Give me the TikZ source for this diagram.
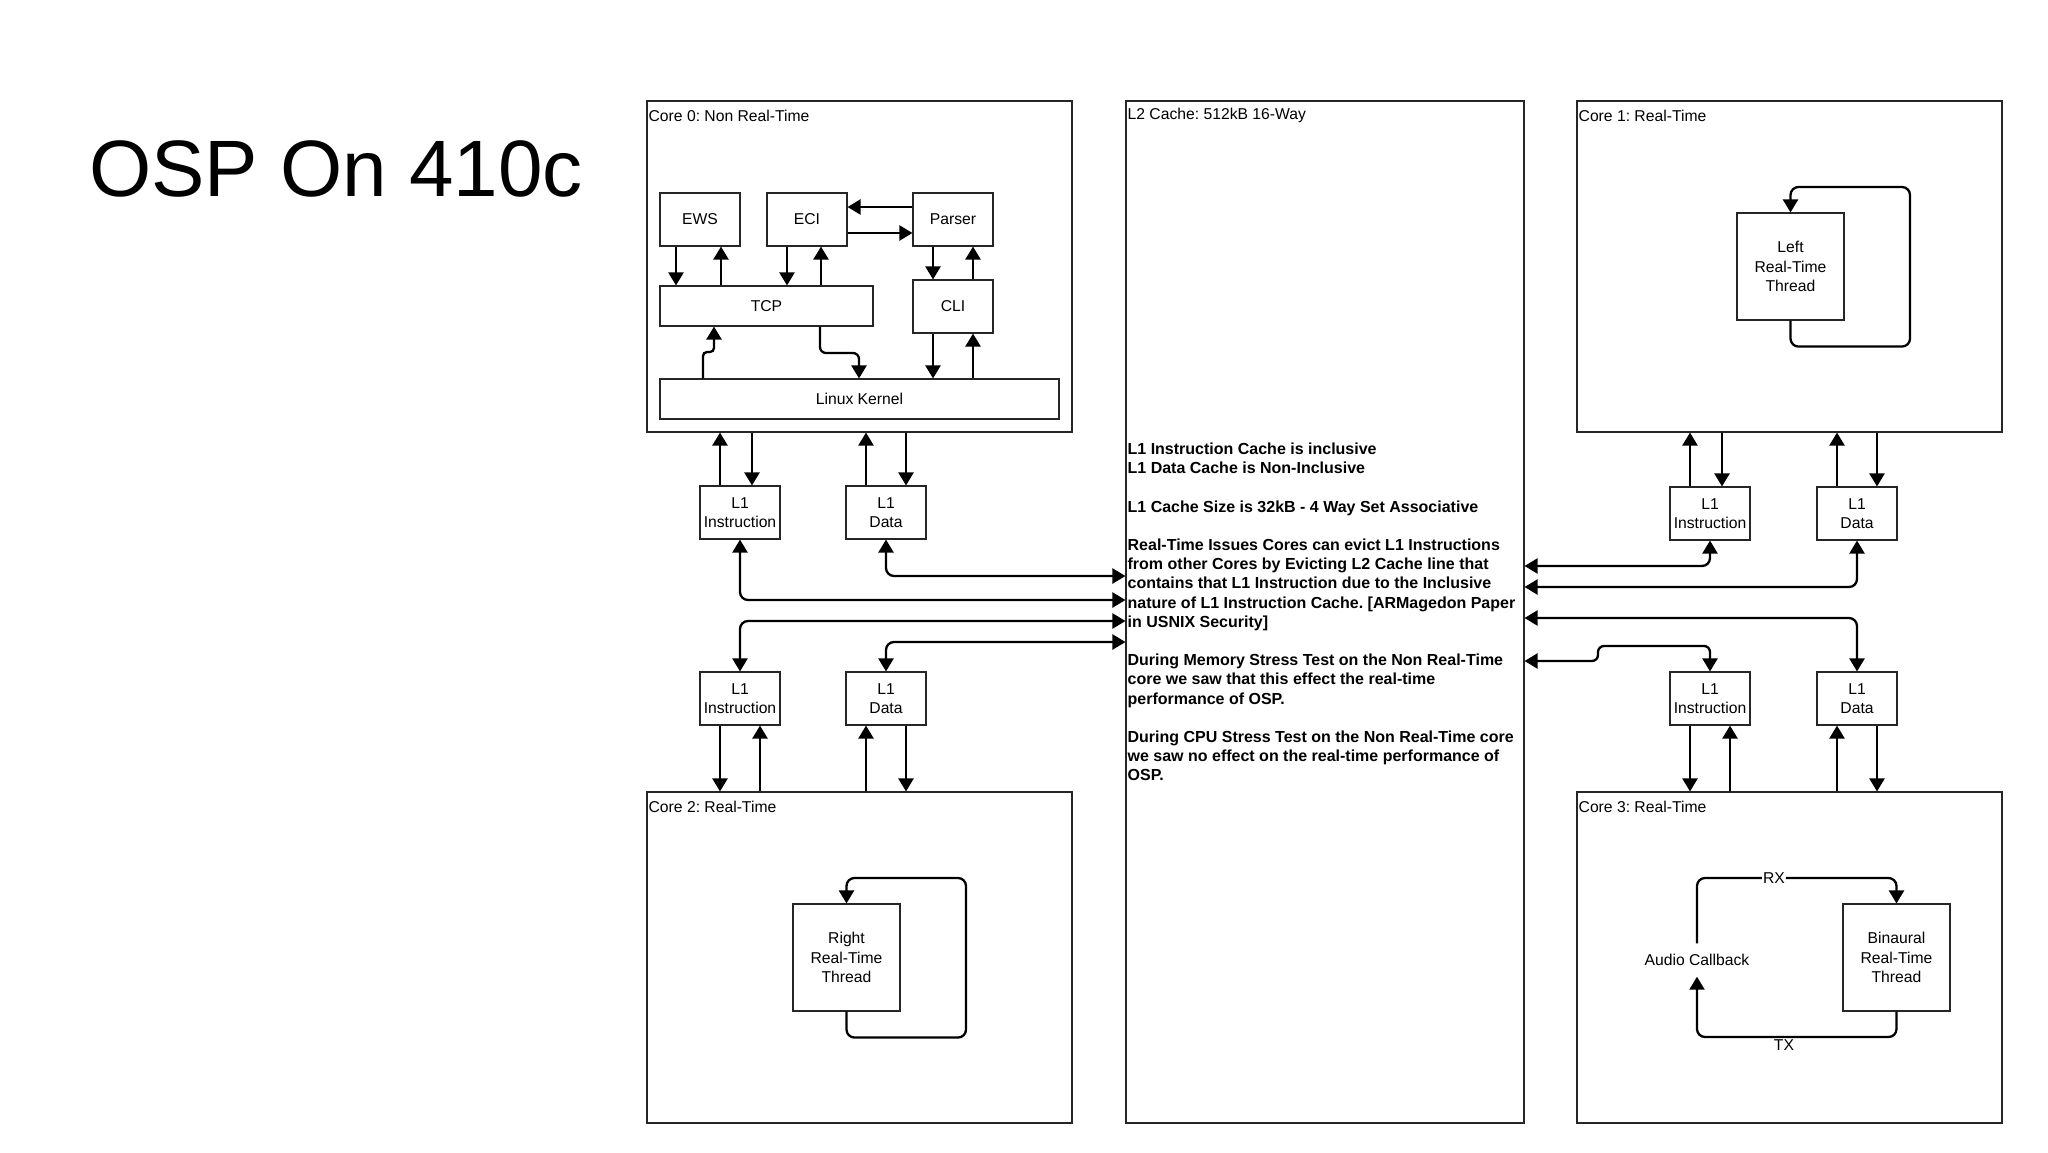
\documentclass[tikz,border=0pt]{standalone}
\usepackage{fontspec}
\setmainfont{Liberation Sans}
\usepackage{tikz}
\usetikzlibrary{arrows.meta}
\frenchspacing
\tikzset{
  box/.style={draw=black!85, line width=1.1pt, align=center, inner sep=1pt},
  small/.style={box, minimum width=80pt, minimum height=53pt},
  thread/.style={box, minimum width=107pt, minimum height=107pt},
  link/.style={line width=2.3pt, rounded corners=8pt},
  lbl/.style={fill=white, inner sep=1pt},
  corelabel/.style={anchor=west, inner sep=0pt},
}

\begin{document}
\begin{tikzpicture}[x=1pt, y=-1pt, >={Triangle[length=13pt,width=15pt]},
    every node/.style={font=\fontsize{15.7}{19.2}\selectfont}]
    \useasboundingbox (0,0) rectangle (2048,1152);

    \node[font=\fontsize{80}{84}\selectfont, anchor=base west, inner sep=0pt] at (89,196) (title) {OSP On 410c};

    % cores and L2
    \node[box, minimum width=425pt, minimum height=331pt] at (859.5,266.5) (core0) {};
    \node[box, minimum width=398pt, minimum height=1022pt] at (1325,612) (l2) {};
    \node[box, minimum width=425pt, minimum height=331pt] at (1789.5,266.5) (core1) {};
    \node[box, minimum width=425pt, minimum height=331pt] at (859.5,957.5) (core2) {};
    \node[box, minimum width=425pt, minimum height=331pt] at (1789.5,957.5) (core3) {};

    \node[corelabel] at ([shift={(2,15)}]core0.north west) {Core 0: Non Real-Time};
    \node[corelabel] at ([shift={(2,15)}]l2.north west) {L2 Cache: 512kB 16-Way};
    \node[corelabel] at ([shift={(2,15)}]core1.north west) {Core 1: Real-Time};
    \node[corelabel] at ([shift={(2,15)}]core2.north west) {Core 2: Real-Time};
    \node[corelabel] at ([shift={(2,15)}]core3.north west) {Core 3: Real-Time};

    \node[anchor=west, align=left, inner sep=0pt, font=\bfseries\fontsize{16}{19.2}\selectfont]
        at ([xshift=2pt]l2.west) (notes) {L1 Instruction Cache is inclusive\\
        L1 Data Cache is Non-Inclusive\\[19.2pt]
        L1 Cache Size is 32kB - 4 Way Set Associative\\[19.2pt]
        Real-Time Issues Cores can evict L1 Instructions\\
        from other Cores by Evicting L2 Cache line that\\
        contains that L1 Instruction due to the Inclusive\\
        nature of L1 Instruction Cache. [ARMagedon Paper\\
        in USNIX Security]\\[19.2pt]
        During Memory Stress Test on the Non Real-Time\\
        core we saw that this effect the real-time\\
        performance of OSP.\\[19.2pt]
        During CPU Stress Test on the Non Real-Time core\\
        we saw no effect on the real-time performance of\\
        OSP.};

    % core 0 inside
    \node[small] at (700,219.5) (ews) {EWS};
    \node[small] at (807,219.5) (eci) {ECI};
    \node[small] at (953,219.5) (parser) {Parser};
    \node[box, minimum width=213pt, minimum height=40pt] at (766.5,306) (tcp) {TCP};
    \node[small] at (953,306.5) (cli) {CLI};
    \node[box, minimum width=399pt, minimum height=40pt] at (859.5,399) (kernel) {Linux Kernel};

    \draw (ews.south -| 676,0) edge[link,->] (tcp.north -| 676,0);
    \draw (tcp.north -| 721,0) edge[link,->] (ews.south -| 721,0);
    \draw (eci.south -| 787,0) edge[link,->] (tcp.north -| 787,0);
    \draw (tcp.north -| 821,0) edge[link,->] (eci.south -| 821,0);
    \draw (eci.east |- 0,233) edge[link,->] (parser.west |- 0,233);
    \draw (parser.west |- 0,207) edge[link,->] (eci.east |- 0,207);
    \draw (parser.south -| 933,0) edge[link,->] (cli.north -| 933,0);
    \draw (cli.north -| 973,0) edge[link,->] (parser.south -| 973,0);
    \draw (cli.south -| 933,0) edge[link,->] (kernel.north -| 933,0);
    \draw (kernel.north -| 973,0) edge[link,->] (cli.south -| 973,0);
    \draw[link, rounded corners=4pt, ->] (kernel.north -| 703,0) |- (714,352) -- (tcp.south -| 714,0);
    \draw[link, rounded corners=6pt, ->] (tcp.south -| 820,0) |- (859,353) -- (kernel.north -| 859,0);

    % L1 caches
    \node[small] at (740,512.5) (I0) {L1\\Instruction};
    \node[small] at (886,512.5) (D0) {L1\\Data};
    \node[small] at (1710,513.5) (I1) {L1\\Instruction};
    \node[small] at (1857,513.5) (D1) {L1\\Data};
    \node[small] at (740,698.5) (I2) {L1\\Instruction};
    \node[small] at (886,698.5) (D2) {L1\\Data};
    \node[small] at (1710,698.5) (I3) {L1\\Instruction};
    \node[small] at (1857,698.5) (D3) {L1\\Data};

    \draw (I0.north -| 720,0) edge[link,->] (core0.south -| 720,0);
    \draw (core0.south -| 752,0) edge[link,->] (I0.north -| 752,0);
    \draw (D0.north -| 866,0) edge[link,->] (core0.south -| 866,0);
    \draw (core0.south -| 906,0) edge[link,->] (D0.north -| 906,0);
    \draw (I1.north -| 1690,0) edge[link,->] (core1.south -| 1690,0);
    \draw (core1.south -| 1722,0) edge[link,->] (I1.north -| 1722,0);
    \draw (D1.north -| 1837,0) edge[link,->] (core1.south -| 1837,0);
    \draw (core1.south -| 1877,0) edge[link,->] (D1.north -| 1877,0);
    \draw (I2.south -| 720,0) edge[link,->] (core2.north -| 720,0);
    \draw (core2.north -| 760,0) edge[link,->] (I2.south -| 760,0);
    \draw (core2.north -| 866,0) edge[link,->] (D2.south -| 866,0);
    \draw (D2.south -| 906,0) edge[link,->] (core2.north -| 906,0);
    \draw (I3.south -| 1690,0) edge[link,->] (core3.north -| 1690,0);
    \draw (core3.north -| 1730,0) edge[link,->] (I3.south -| 1730,0);
    \draw (core3.north -| 1837,0) edge[link,->] (D3.south -| 1837,0);
    \draw (D3.south -| 1877,0) edge[link,->] (core3.north -| 1877,0);

    % L1 <-> L2
    \draw[link,<->] (D0.south) |- (l2.west |- 0,576);
    \draw[link,<->] (I0.south) |- (l2.west |- 0,600);
    \draw[link,<->] (I2.north) |- (l2.west |- 0,621);
    \draw[link,<->] (D2.north) |- (l2.west |- 0,642);
    \draw[link,<->] (I1.south) |- (l2.east |- 0,566);
    \draw[link,<->] (D1.south) |- (l2.east |- 0,587);
    \draw[link,<->] (D3.north) |- (l2.east |- 0,618);
    \draw[link, rounded corners=6pt, <->] (I3.north) |- (1598,646) |- (l2.east |- 0,661);

    % threads
    \node[thread] at (1790.5,266.5) (left) {Left\\Real-Time\\Thread};
    \node[thread] at (846.5,957.5) (right) {Right\\Real-Time\\Thread};
    \node[thread] at (1896.5,957.5) (binaural) {Binaural\\Real-Time\\Thread};
    \node[minimum height=33pt, inner sep=0pt] at (1697,960) (callback) {Audio Callback};

    \draw[link,->] (left.south) -- ++(0,26) -| (1910,187) -| (left.north);
    \draw[link,->] (right.south) -- ++(0,26) -| (966,878) -| (right.north);
    \draw[link,->] (callback.north) |- (1774,878) node[lbl] {RX} -| (binaural.north);
    \draw[link,->] (binaural.south) |- (1784,1037) node[lbl, yshift=-8pt] {TX} -| (callback.south);
\end{tikzpicture}
\end{document}
